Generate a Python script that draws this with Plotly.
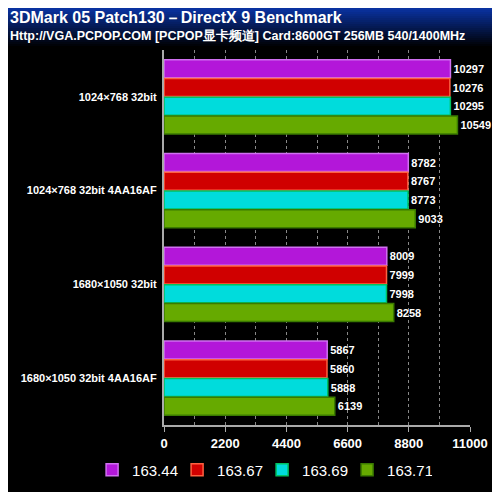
import plotly.graph_objects as go

categories = ["1024×768 32bit", "1024×768 32bit 4AA16AF", "1680×1050 32bit", "1680×1050 32bit 4AA16AF"]
series_names = ["163.44", "163.67", "163.69", "163.71"]
v16344 = [10297, 8782, 8009, 5867]
v16367 = [10276, 8767, 7999, 5860]
v16369 = [10295, 8773, 7998, 5888]
v16371 = [10549, 9033, 8258, 6139]

fills = ["#b317d9", "#d00000", "#00dcdc", "#66aa00"]
edges = ["#d070f0", "#ff6040", "#00c060", "#3a7a00"]

fig = go.Figure()
for name, vals, fc, ec in zip(series_names, [v16344, v16367, v16369, v16371], fills, edges):
    fig.add_trace(go.Bar(
        y=categories, x=vals, name=name, orientation="h",
        marker=dict(color=fc, line=dict(color=ec, width=1.5)),
        text=[f"<b>{v}</b>" for v in vals], textposition="outside",
        textfont=dict(color="white", size=11, family="Liberation Sans"),
        cliponaxis=False,
    ))

# title band gradient (blue to black); plot area 375px tall, 42px from top
n = 20
for i in range(n):
    t = i / (n - 1)
    c = f"rgb({int(10*(1-t))},{int(50*(1-t))},{int(160*(1-t))})"
    fig.add_shape(type="rect", xref="paper", yref="paper",
                  x0=-1, x1=2, y0=1 + (42 - i * 2.0) / 375, y1=1 + (42 - (i + 1) * 2.0 - 0.5) / 375,
                  fillcolor=c, line_width=0, layer="below")

fig.update_layout(
    width=484, height=484,
    paper_bgcolor="black", plot_bgcolor="black",
    margin=dict(l=156, r=22, t=42, b=67, autoexpand=False),
    barmode="group", bargap=0.2, bargroupgap=0.05,
    font=dict(family="Liberation Sans", color="white", size=11),
    showlegend=True,
    legend=dict(orientation="h", x=-0.235, xanchor="left", y=-45 / 375, yanchor="middle",
                font=dict(size=15, color="white"), entrywidth=40, entrywidthmode="pixels",
                itemwidth=30, traceorder="normal"),
    annotations=[
        dict(text="<b>3DMark 05 Patch130－DirectX 9 Benchmark</b>", xref="paper", yref="paper",
             x=-156 / 306, y=1 + 43 / 375, xanchor="left", yanchor="top", showarrow=False,
             font=dict(size=16, color="white")),
        dict(text="<b>Http://VGA.PCPOP.COM [PCPOP显卡频道] Card:8600GT 256MB 540/1400MHz</b>",
             xref="paper", yref="paper", x=-156 / 306, y=1 + 23 / 375, xanchor="left", yanchor="top",
             showarrow=False, font=dict(size=12.5, color="white")),
    ],
)
fig.update_xaxes(range=[0, 11000], tickvals=[0, 2200, 4400, 6600, 8800, 11000],
                 ticktext=["<b>0</b>", "<b>2200</b>", "<b>4400</b>", "<b>6600</b>", "<b>8800</b>", "<b>11000</b>"],
                 showgrid=True, gridcolor="#888", griddash="dot", gridwidth=1,
                 minor=dict(tickvals=[1100, 3300, 5500, 7700, 9900], showgrid=True, gridcolor="#888", griddash="dot"),
                 showline=True, linecolor="#aaa", linewidth=2, zeroline=False, automargin=False,
                 tickfont=dict(size=13, color="white"), ticks="outside", tickcolor="#aaa")
fig.update_yaxes(autorange="reversed", showline=True, linecolor="#aaa", linewidth=2, automargin=False,
                 tickfont=dict(size=11, color="white"), tickprefix="<b>", ticksuffix="</b> ",
                 showgrid=False)

fig.write_html("out.html")
